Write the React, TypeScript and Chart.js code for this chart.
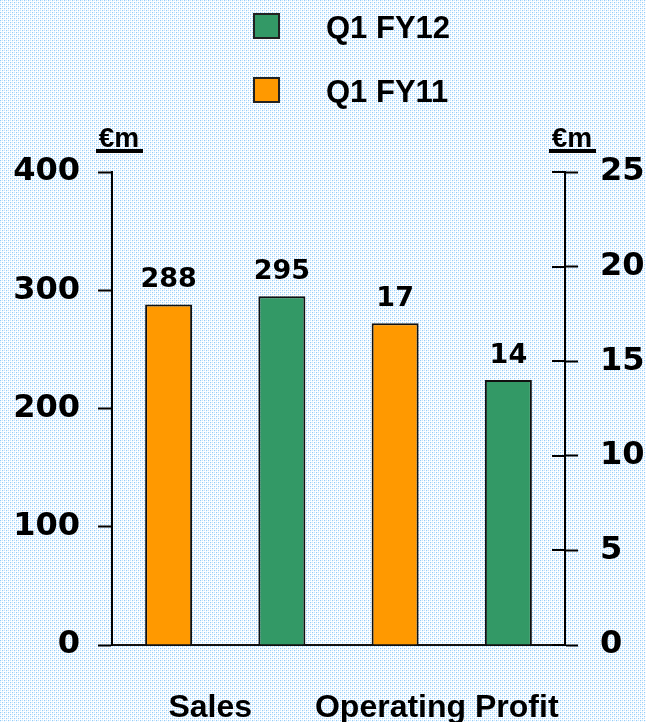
import React, { useEffect, useRef } from 'react';
import { Chart, registerables } from 'chart.js';

Chart.register(...registerables);

// Categories: Sales is read on the left axis, Operating Profit on the right axis (both €m)
const categories = ['Sales', 'Operating Profit'];
const seriesNames = ['Q1 FY11', 'Q1 FY12'];
const fy11Values = [288, 17];
const fy12Values = [295, 14];
const salesTicks = [0, 100, 200, 300, 400];
const profitTicks = [0, 5, 10, 15, 20, 25];
const unitLabel = '€m';

const ORANGE = '#FF9900';
const GREEN = '#339966';
const WORD_FONT = '"Liberation Sans", Arial, Helvetica, sans-serif';
const NUM_FONT = '"DejaVu Sans", Verdana, sans-serif';

const axisFor = (ci: number) => (ci === 0 ? 'ySales' : 'yProfit');
const seriesColors = [ORANGE, GREEN];
const seriesValues = [fy11Values, fy12Values];

// Light blue dotted paper behind everything
const backgroundPlugin = {
  id: 'dottedBackground',
  beforeDraw(chart: any) {
    const { ctx, width, height } = chart;
    const tile = document.createElement('canvas');
    tile.width = 4;
    tile.height = 4;
    const t = tile.getContext('2d')!;
    t.fillStyle = '#ffffff';
    t.fillRect(0, 0, 4, 4);
    t.fillStyle = '#94cdf9';
    t.fillRect(0, 0, 1, 1);
    t.fillRect(2, 2, 1, 1);
    t.fillStyle = '#c8e5fc';
    t.fillRect(2, 0, 1, 1);
    t.fillRect(0, 2, 1, 1);
    t.fillStyle = '#eaf5fe';
    t.fillRect(1, 0, 1, 1);
    t.fillRect(0, 1, 1, 1);
    t.fillRect(3, 2, 1, 1);
    t.fillRect(2, 3, 1, 1);
    ctx.save();
    ctx.fillStyle = ctx.createPattern(tile, 'repeat');
    ctx.fillRect(0, 0, width, height);
    ctx.restore();
  },
};

// Legend stacked vertically above the plot
const legendPlugin = {
  id: 'stackedLegend',
  afterDraw(chart: any) {
    const { ctx } = chart;
    const items = [
      { name: seriesNames[1], color: GREEN },
      { name: seriesNames[0], color: ORANGE },
    ];
    ctx.save();
    items.forEach((item, i) => {
      const top = 14 + i * 64;
      ctx.fillStyle = item.color;
      ctx.fillRect(254, top, 25, 24);
      ctx.strokeStyle = '#222';
      ctx.lineWidth = 2;
      ctx.strokeRect(254, top, 25, 24);
      ctx.fillStyle = '#000';
      ctx.font = `bold 31px ${WORD_FONT}`;
      ctx.textAlign = 'left';
      ctx.textBaseline = 'alphabetic';
      ctx.fillText(item.name, 326, top + 24);
    });
    ctx.restore();
  },
};

// Underlined unit captions on top of both value axes, plus inward ticks on the right axis
const axisDecorPlugin = {
  id: 'axisDecor',
  afterDraw(chart: any) {
    const { ctx, chartArea } = chart;
    const left = chart.scales.ySales;
    const right = chart.scales.yProfit;
    ctx.save();
    ctx.fillStyle = '#000';
    ctx.font = `bold 28px ${WORD_FONT}`;
    ctx.textAlign = 'center';
    ctx.textBaseline = 'alphabetic';
    [left.right + 7, right.left + 7].forEach((cx) => {
      ctx.fillText(unitLabel, cx, chartArea.top - 25);
      ctx.fillRect(cx - 23, chartArea.top - 23, 47, 4);
    });
    ctx.strokeStyle = '#000';
    ctx.lineWidth = 2;
    profitTicks.forEach((v) => {
      const y = Math.round(right.getPixelForValue(v));
      ctx.beginPath();
      ctx.moveTo(right.left - 13, y);
      ctx.lineTo(right.left, y);
      ctx.stroke();
    });
    ctx.restore();
  },
};

// Value captions above each bar
const valueLabelPlugin = {
  id: 'valueLabels',
  afterDatasetsDraw(chart: any) {
    const { ctx } = chart;
    ctx.save();
    ctx.fillStyle = '#000';
    ctx.font = `bold 27px ${NUM_FONT}`;
    ctx.textAlign = 'center';
    ctx.textBaseline = 'alphabetic';
    chart.data.datasets.forEach((ds: any, di: number) => {
      const meta = chart.getDatasetMeta(di);
      ds.data.forEach((v: number | null, i: number) => {
        if (v === null || v === undefined) return;
        const el = meta.data[i];
        ctx.fillText(String(v), el.x, el.y - 17);
      });
    });
    ctx.restore();
  },
};

export default function App() {
  const canvasRef = useRef<HTMLCanvasElement | null>(null);

  useEffect(() => {
    const datasets: any[] = [];
    categories.forEach((_, ci) => {
      seriesValues.forEach((vals, si) => {
        datasets.push({
          label: seriesNames[si],
          data: categories.map((__, k) => (k === ci ? vals[ci] : null)),
          yAxisID: axisFor(ci),
          backgroundColor: seriesColors[si],
          borderColor: '#111',
          borderWidth: 2,
          categoryPercentage: 1,
          barPercentage: 0.415,
          skipNull: true,
        });
      });
    });

    const chart = new Chart(canvasRef.current!, {
      type: 'bar',
      data: { labels: categories, datasets },
      plugins: [backgroundPlugin, axisDecorPlugin, valueLabelPlugin, legendPlugin],
      options: {
        animation: false,
        responsive: false,
        devicePixelRatio: 1,
        layout: { padding: { top: 172, left: 0, right: 0, bottom: 0 } },
        plugins: { legend: { display: false }, tooltip: { enabled: false } },
        scales: {
          x: {
            grid: { display: false, drawTicks: false },
            border: { display: true, color: '#111', width: 2 },
            ticks: {
              color: '#000',
              font: { family: WORD_FONT, size: 32, weight: 'bold' },
              padding: 44,
              labelOffset: -15,
              maxRotation: 0,
              autoSkip: false,
            },
            afterFit: (s: any) => {
              s.height = 77;
            },
          },
          ySales: {
            position: 'left',
            min: salesTicks[0],
            max: salesTicks[salesTicks.length - 1],
            afterBuildTicks: (s: any) => {
              s.ticks = salesTicks.map((v) => ({ value: v }));
            },
            grid: {
              drawOnChartArea: false,
              drawTicks: true,
              tickLength: 14,
              tickColor: '#000',
              tickWidth: 2,
            },
            border: { display: true, color: '#000', width: 2 },
            ticks: {
              color: '#000',
              font: { family: NUM_FONT, size: 32, weight: 'bold' },
              padding: 18,
            },
            afterFit: (s: any) => {
              s.width = 112;
            },
          },
          yProfit: {
            position: 'right',
            min: profitTicks[0],
            max: profitTicks[profitTicks.length - 1],
            afterBuildTicks: (s: any) => {
              s.ticks = profitTicks.map((v) => ({ value: v }));
            },
            grid: {
              drawOnChartArea: false,
              drawTicks: true,
              tickLength: 13,
              tickColor: '#000',
              tickWidth: 2,
            },
            border: { display: true, color: '#000', width: 2 },
            ticks: {
              color: '#000',
              font: { family: NUM_FONT, size: 32, weight: 'bold' },
              padding: 22,
            },
            afterFit: (s: any) => {
              s.width = 81;
            },
          },
        },
      },
    } as any);

    return () => chart.destroy();
  }, []);

  return (
    <div style={{ position: 'fixed', left: 0, top: 0, width: 646, height: 722 }}>
      <canvas ref={canvasRef} width={646} height={722} style={{ display: 'block' }} />
    </div>
  );
}
